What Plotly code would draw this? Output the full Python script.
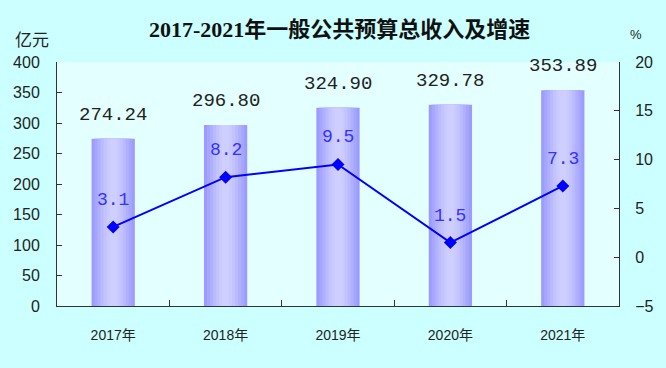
import plotly.graph_objects as go

years = ["2017年", "2018年", "2019年", "2020年", "2021年"]
revenue = [274.24, 296.80, 324.90, 329.78, 353.89]
growth = [3.1, 8.2, 9.5, 1.5, 7.3]
revenue_labels = ["274.24", "296.80", "324.90", "329.78", "353.89"]
growth_labels = ["3.1", "8.2", "9.5", "1.5", "7.3"]

fig = go.Figure()

# gradient-like bars: overlay narrowing bars, lighter toward the centre
base_w = 0.385
steps = [
    (1.00, "#9C9CFF"),
    (0.86, "#A6A6FF"),
    (0.72, "#B0B0FF"),
    (0.58, "#BABAFF"),
    (0.44, "#C3C3FF"),
    (0.30, "#CACAFF"),
    (0.16, "#CFCFFF"),
]
for f, col in steps:
    fig.add_trace(go.Bar(
        x=years, y=revenue, width=base_w * f,
        marker=dict(color=col, line=dict(width=0)),
        showlegend=False, hoverinfo="skip",
    ))

fig.add_trace(go.Scatter(
    x=years, y=growth, yaxis="y2", mode="lines+markers",
    line=dict(color="#0000FF", width=2),
    marker=dict(symbol="diamond", size=10, color="#0000FF"),
    showlegend=False,
))

annotations = []
for yr, v, lab in zip(years, revenue, revenue_labels):
    annotations.append(dict(
        x=yr, y=v, xref="x", yref="y", text=lab, showarrow=False,
        yanchor="middle", yshift=24,
        font=dict(family="Liberation Mono", size=19, color="#222222"),
    ))
for yr, v, lab in zip(years, growth, growth_labels):
    annotations.append(dict(
        x=yr, y=v, xref="x", yref="y2", text=lab, showarrow=False,
        yanchor="middle", yshift=27,
        font=dict(family="Liberation Mono", size=18, color="#3333FF"),
    ))
annotations += [
    dict(text="亿元", xref="paper", yref="paper", x=-0.0445, y=1.096,
         xanchor="center", yanchor="middle", showarrow=False,
         font=dict(family="Noto Sans CJK SC", size=17, color="#222222")),
    dict(text="%", xref="paper", yref="paper", x=1.030, y=1.111,
         xanchor="center", yanchor="middle", showarrow=False,
         font=dict(family="Liberation Sans", size=13, color="#222222")),
]

axis_font = dict(family="Liberation Sans", size=16, color="#222222")

fig.update_layout(
    width=666, height=368,
    margin=dict(l=57, r=47, t=62, b=62, autoexpand=False),
    paper_bgcolor="#CCFFFF",
    plot_bgcolor="#E4FFFF",
    barmode="overlay",
    title=dict(
        text="<b>2017-2021年一般公共预算总收入及增速</b>",
        x=0.51, xanchor="center", y=0.92, yanchor="middle",
        font=dict(family="Liberation Serif, Noto Sans CJK SC", size=22, color="#111111"),
    ),
    xaxis=dict(
        showline=True, linecolor="#333333", linewidth=1,
        ticks="inside", ticklen=6, tickcolor="#333333", tickson="boundaries",
        tickfont=dict(family="Liberation Sans, Noto Sans CJK SC", size=14, color="#222222"),
        ticklabelstandoff=16,
        showgrid=False, automargin=False,
    ),
    yaxis=dict(
        range=[0, 400], dtick=50,
        showline=True, linecolor="#333333", linewidth=1,
        ticks="inside", ticklen=5, tickcolor="#333333",
        tickfont=axis_font, ticklabelstandoff=13,
        showgrid=False, zeroline=False, automargin=False,
    ),
    yaxis2=dict(
        range=[-5, 20], dtick=5, overlaying="y", side="right",
        showline=True, linecolor="#333333", linewidth=1,
        ticks="inside", ticklen=5, tickcolor="#333333",
        tickfont=axis_font, ticklabelstandoff=12,
        showgrid=False, zeroline=False, automargin=False,
    ),
    annotations=annotations,
)

fig.write_html(
    "out.html",
    config={"displayModeBar": False},
    post_script="document.body.style.margin='0';document.body.style.padding='0';",
)
